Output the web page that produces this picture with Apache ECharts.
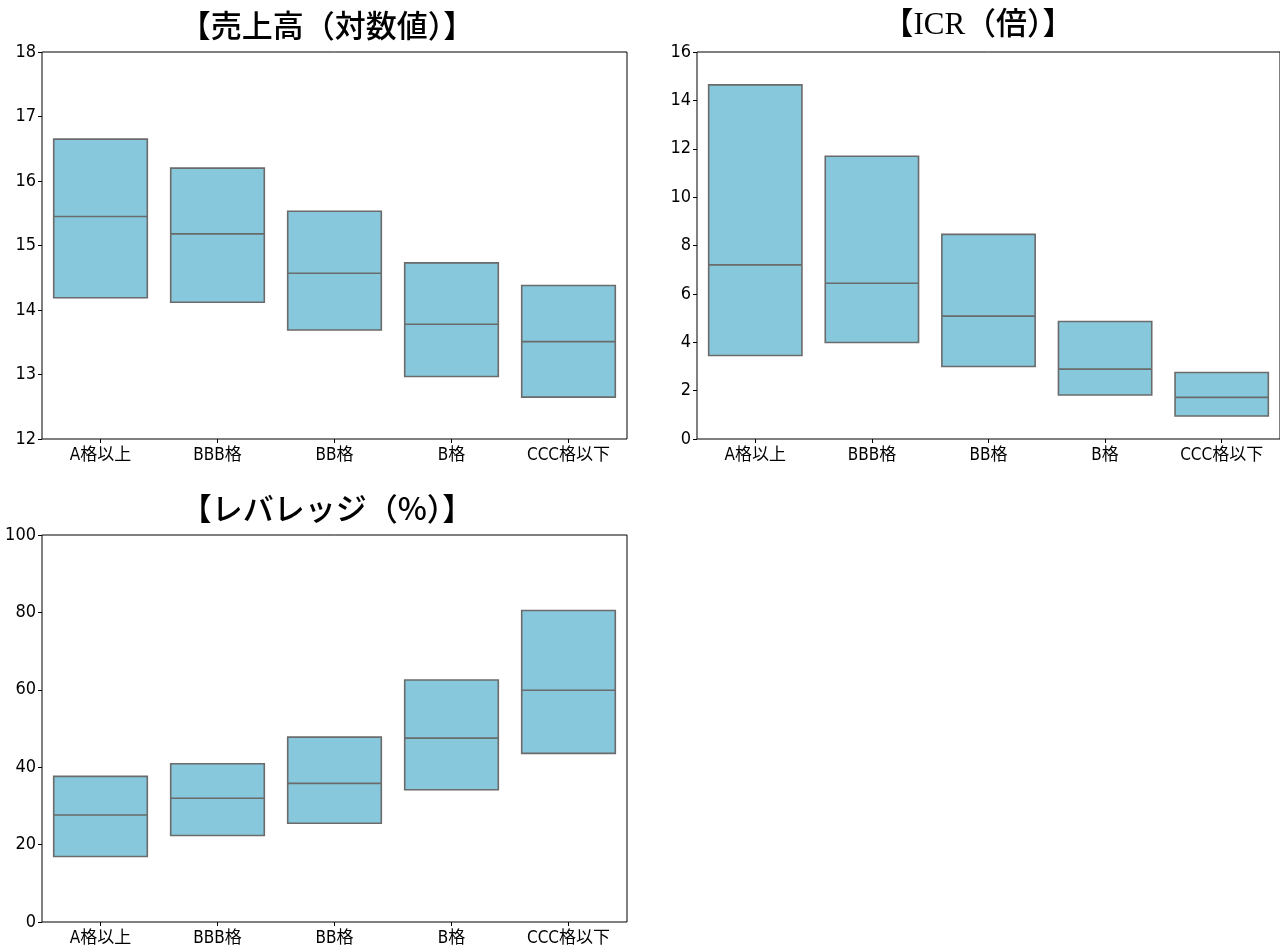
<!DOCTYPE html>
<html>
<head>
<meta charset="utf-8">
<script src="https://cdn.jsdelivr.net/npm/echarts@6/dist/echarts.min.js"></script>
<style>
  html, body { margin: 0; padding: 0; background: #fff; }
  #chart { width: 1280px; height: 951px; }
</style>
</head>
<body>
<div id="chart"></div>
<script>
// Rating categories
const categories = ['A格以上', 'BBB格', 'BB格', 'B格', 'CCC格以下'];

// 売上高（対数値）: quartiles per rating
const salesQ1  = [14.19, 14.12, 13.69, 12.97, 12.65];
const salesMed = [15.45, 15.18, 14.57, 13.78, 13.51];
const salesQ3  = [16.65, 16.20, 15.53, 14.73, 14.38];

// ICR（倍）
const icrQ1  = [3.45, 3.99, 3.00, 1.82, 0.95];
const icrMed = [7.20, 6.44, 5.08, 2.89, 1.72];
const icrQ3  = [14.64, 11.69, 8.46, 4.86, 2.75];

// レバレッジ（%）
const levQ1  = [16.92, 22.34, 25.52, 34.19, 43.56];
const levMed = [27.66, 31.96, 35.82, 47.51, 59.88];
const levQ3  = [37.63, 40.89, 47.77, 62.54, 80.50];

// Y-axis ranges and tick steps
const salesTicks = { min: 12, max: 18, interval: 1 };
const icrTicks   = { min: 0,  max: 16, interval: 2 };
const levTicks   = { min: 0,  max: 100, interval: 20 };

const titles = ['【売上高（対数値）】', '【ICR（倍）】', '【レバレッジ（%）】'];

// Whiskers sit on the box edges: [min, Q1, median, Q3, max]
function boxRows(q1, med, q3) {
  return q1.map((v, i) => [v, v, med[i], q3[i], q3[i]]);
}

const labelFont = "'Liberation Sans Narrow', 'DejaVu Sans Condensed', 'Noto Sans CJK JP', sans-serif";
const cjkFont = "'Noto Sans CJK JP', sans-serif";
const titleStyle = { fontFamily: cjkFont, fontSize: 31, fontWeight: 500, color: '#000' };

const grids = [
  { left: 42,  top: 52,  width: 585, height: 387 },
  { left: 697, top: 52,  width: 585, height: 387 },
  { left: 42,  top: 535, width: 585, height: 387 }
];

const ranges = [salesTicks, icrTicks, levTicks];
const boxes = [
  boxRows(salesQ1, salesMed, salesQ3),
  boxRows(icrQ1, icrMed, icrQ3),
  boxRows(levQ1, levMed, levQ3)
];

const option = {
  animation: false,
  backgroundColor: '#ffffff',
  title: [
    { text: titles[0], left: 322, top: 5, textAlign: 'center', textStyle: titleStyle },
    { text: titles[1], left: 973, top: 5, textAlign: 'center',
      textStyle: Object.assign({}, titleStyle, { fontFamily: "'Liberation Serif', 'Noto Sans CJK JP', serif" }) },
    { text: titles[2], left: 322, top: 488, textAlign: 'center', textStyle: titleStyle }
  ],
  grid: grids.map(g => Object.assign({ show: true, borderColor: '#000', borderWidth: 1, backgroundColor: 'transparent' }, g)),
  xAxis: grids.map((g, i) => ({
    type: 'category',
    gridIndex: i,
    data: categories,
    boundaryGap: true,
    axisLine: { show: false },
    axisTick: { show: true, alignWithLabel: true, length: 4, lineStyle: { color: '#000' } },
    axisLabel: { fontFamily: labelFont, fontSize: 17, color: '#000', margin: 8 },
    splitLine: { show: false }
  })),
  yAxis: ranges.map((r, i) => ({
    type: 'value',
    gridIndex: i,
    min: r.min,
    max: r.max,
    interval: r.interval,
    axisLine: { show: false },
    axisTick: { show: true, length: 4, lineStyle: { color: '#000' } },
    axisLabel: { fontFamily: labelFont, fontSize: 18, color: '#000', margin: 6 },
    splitLine: { show: false }
  })),
  series: boxes.map((rows, i) => ({
    type: 'boxplot',
    xAxisIndex: i,
    yAxisIndex: i,
    data: rows,
    boxWidth: ['80%', '80%'],
    itemStyle: { color: '#87c8dc', borderColor: '#6b6b6b', borderWidth: 1.6 },
    emphasis: { disabled: true }
  }))
};

const chart = echarts.init(document.getElementById('chart'), null, { renderer: 'canvas' });
chart.setOption(option);
</script>
</body>
</html>
